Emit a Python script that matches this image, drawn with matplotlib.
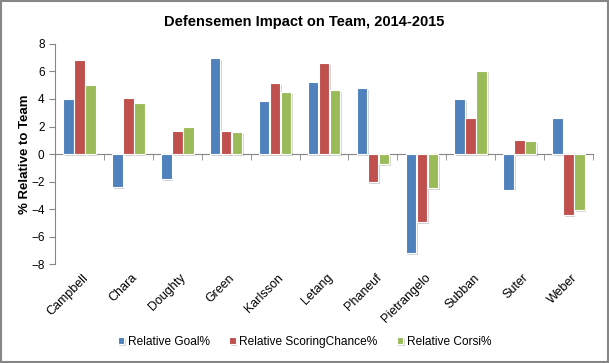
import numpy as np
import matplotlib.pyplot as plt
from matplotlib.patches import Rectangle
import matplotlib.patheffects as pe

plt.rcParams['font.family'] = ['Liberation Sans', 'DejaVu Sans']

players = ['Campbell', 'Chara', 'Doughty', 'Green', 'Karlsson', 'Letang',
           'Phaneuf', 'Pietrangelo', 'Subban', 'Suter', 'Weber']
goal = [4.0, -2.4, -1.85, 6.95, 3.85, 5.25, 4.8, -7.2, 4.0, -2.6, 2.6]
scoring = [6.8, 4.05, 1.65, 1.65, 5.15, 6.6, -2.05, -4.95, 2.6, 1.0, -4.45]
corsi = [5.0, 3.7, 1.95, 1.6, 4.5, 4.65, -0.75, -2.5, 6.05, 0.95, -4.1]

series = [('Relative Goal%', goal, '#4F81BD'),
          ('Relative ScoringChance%', scoring, '#C0504D'),
          ('Relative Corsi%', corsi, '#9BBB59')]

fig = plt.figure(figsize=(6.09, 3.63), dpi=100)
ax = fig.add_axes([0.0903, 0.2727, 0.8834, 0.6061])

x = np.arange(len(players))
w = 0.215
shadow = [pe.SimplePatchShadow(offset=(1.2, -1.2), alpha=0.2), pe.Normal()]
for i, (name, vals, col) in enumerate(series):
    bars = ax.bar(x + (i - 1) * (w + 0.01), vals, w, color=col, edgecolor='white',
                  linewidth=0.8, label=name, zorder=3)
    for b in bars:
        b.set_path_effects(shadow)

ax.set_xlim(-0.5, len(players) - 0.5)
ax.set_ylim(-8, 8)
ax.set_yticks(range(-8, 9, 2))
ax.tick_params(axis='y', labelsize=8.5, color='#868686', length=4, direction='out')

# category axis sits on zero, labels at the bottom
ax.spines['bottom'].set_position(('data', 0))
ax.spines['bottom'].set_color('#868686')
ax.spines['left'].set_color('#868686')
ax.spines['top'].set_visible(False)
ax.spines['right'].set_visible(False)
ax.set_xticks(x)
ax.set_xticklabels([])
ax.tick_params(axis='x', length=0)
ax.set_xticks(np.arange(-0.5, len(players), 1), minor=True)
ax.tick_params(axis='x', which='minor', length=4, color='#868686', direction='out')

for xi, name in zip(x, players):
    ax.text(xi + 0.05, -0.035, name, transform=ax.get_xaxis_transform(),
            rotation=45, ha='right', va='top', rotation_mode='anchor', fontsize=9)

ax.set_ylabel('% Relative to Team', fontsize=9.5, fontweight='bold')
ax.yaxis.label.set_va('center')
ax.yaxis.set_label_coords(-0.056, 0.5)
fig.text(0.5, 0.94, 'Defensemen Impact on Team, 2014-2015', ha='center', va='center',
         fontsize=10.5, fontweight='bold')

handles, labels = ax.get_legend_handles_labels()
fig.legend(handles, labels, loc='center', bbox_to_anchor=(0.5, 0.058), ncol=3,
           frameon=False, fontsize=8.6, handlelength=0.55, handleheight=0.55,
           handletextpad=0.3, columnspacing=1.6)

fig.patches.append(Rectangle((0.001, 0.002), 0.997, 0.995, transform=fig.transFigure,
                             fill=False, edgecolor='#868686', linewidth=1.5))

fig.savefig('out.png', dpi=100)
